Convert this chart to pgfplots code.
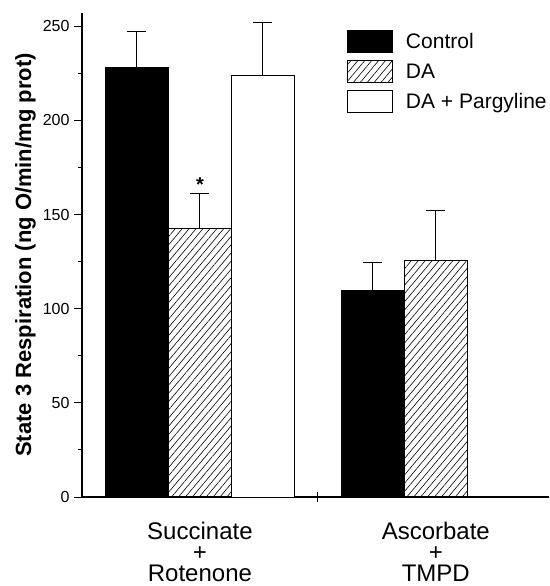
\documentclass[border=0pt]{standalone}
\usepackage{pgfplots}
\pgfplotsset{compat=1.18}
\usepackage{fontspec}
\setmainfont{Liberation Sans}
\usetikzlibrary{patterns.meta}
\pgfplotsset{boxlegend/.style={legend image code/.code={\draw[##1, line width=1pt] (0pt,-11pt) rectangle (45pt,11pt);}}}
\begin{document}
\begin{tikzpicture}
\begin{axis}[
  scale only axis, width=467pt, height=484pt,
  xmin=0.5, xmax=2.48, ymin=0, ymax=257,
  axis lines*=left, axis line style={line width=1.3pt},
  ybar, bar width=0.267,
  ytick={0,50,...,250}, minor y tick num=1,
  tick align=outside, major tick length=8pt, minor tick length=4pt,
  tick style={line width=1pt, black},
  /pgf/number format/assume math mode=true,
  yticklabel style={font=\fontsize{16}{16}\selectfont, xshift=-1pt},
  xtick={1,2},
  xticklabels={{Succinate\\+\\Rotenone},{Ascorbate\\+\\TMPD}},
  x tick style={draw=none},
  xticklabel style={align=center, font=\fontsize{24}{21}\selectfont, yshift=-14pt},
  extra x ticks={1.5}, extra x tick labels={},
  extra x tick style={x tick style={draw=black}, tick align=center, major tick length=10pt},
  ylabel={State 3 Respiration (ng O/min/mg prot)},
  ylabel style={font=\fontsize{22}{22}\selectfont\bfseries},
  legend style={at={(rel axis cs:0.567,0.965)}, anchor=north west, draw=none, fill=none,
    inner sep=0pt, row sep=7pt, font=\fontsize{21}{21}\selectfont,
    cells={anchor=west},
    /tikz/every odd column/.append style={column sep=11pt}},
  legend cell align=left,
  clip=false,
]
\addplot[boxlegend, bar shift=-0.267, fill=black, draw=black, line width=1pt,
  error bars/.cd, y dir=plus, y explicit,
  error bar style={line width=1pt, solid},
  error mark options={rotate=90, mark size=9.5pt, line width=1pt}]
  coordinates {(1,228) +- (0,19) (2,109.6) +- (0,15)};
\addlegendentry{Control}
\addplot[boxlegend, bar shift=0, fill=white, draw=black, line width=1pt,
  pattern={Lines[angle=50, distance=5.3pt, line width=0.6pt]}, pattern color=black,
  error bars/.cd, y dir=plus, y explicit,
  error bar style={line width=1pt, solid},
  error mark options={rotate=90, mark size=9.5pt, line width=1pt}]
  coordinates {(1,142.6) +- (0,18.5) (2,125.5) +- (0,26.5)};
\addlegendentry{DA}
\addplot[boxlegend, bar shift=0.267, fill=white, draw=black, line width=1pt,
  error bars/.cd, y dir=plus, y explicit,
  error bar style={line width=1pt, solid},
  error mark options={rotate=90, mark size=9.5pt, line width=1pt}]
  coordinates {(1,223.6) +- (0,28.4)};
\addlegendentry{DA + Pargyline}
\node[font=\fontsize{20}{20}\selectfont\bfseries] at (axis cs:1,166) {*};
\coordinate (sw) at (rel axis cs:0,0);
\coordinate (ne) at (rel axis cs:1,1);
\end{axis}
\pgfresetboundingbox
\path ([shift={(-82pt,-89pt)}]sw) rectangle ([shift={(0pt,13pt)}]ne);
\end{tikzpicture}
\end{document}
